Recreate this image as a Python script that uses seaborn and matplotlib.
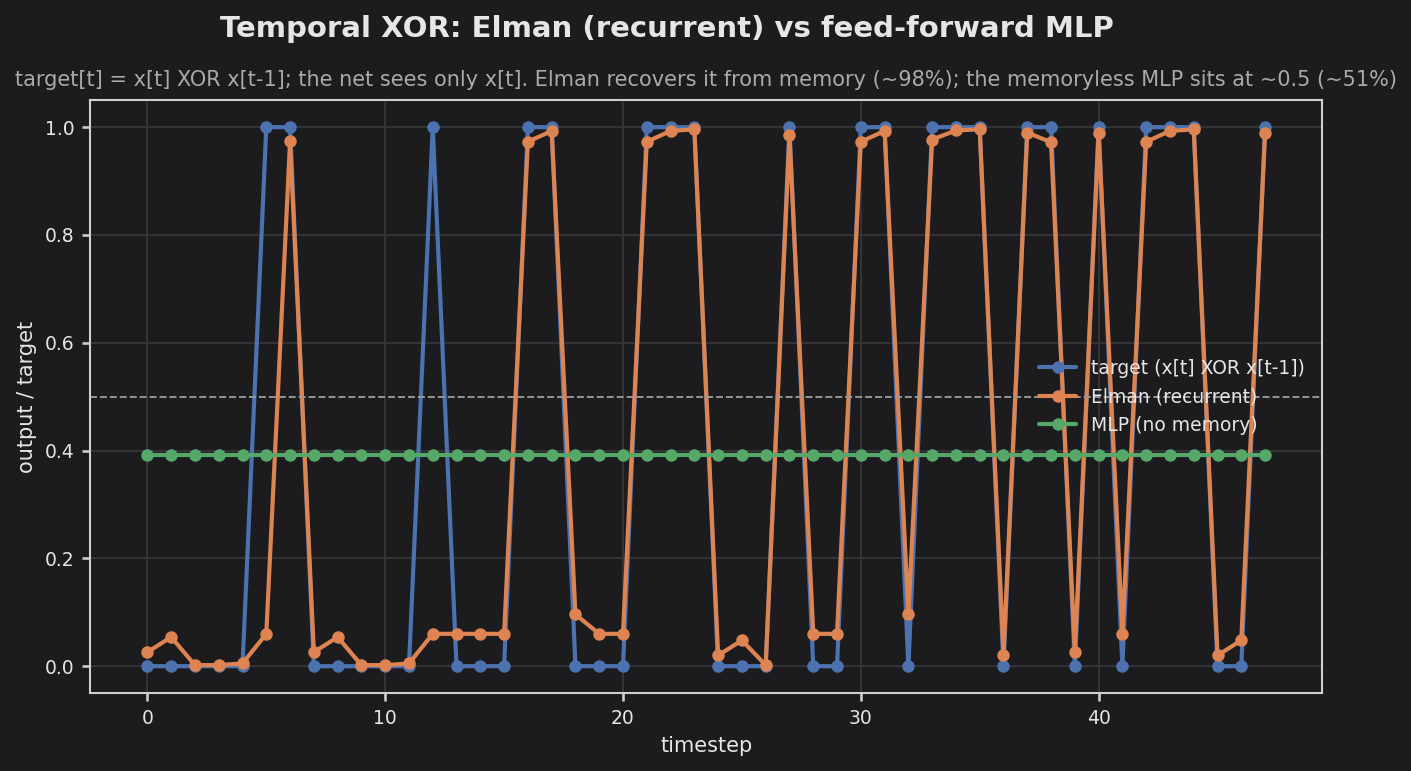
import numpy as np
import pandas as pd
import matplotlib
matplotlib.use("Agg")
import matplotlib.pyplot as plt
import seaborn as sns

timesteps = list(range(48))
target = [0, 0, 0, 0, 0, 1, 1, 0, 0, 0, 0, 0, 1, 0, 0, 0, 1, 1, 0, 0, 0, 1, 1, 1,
          0, 0, 0, 1, 0, 0, 1, 1, 0, 1, 1, 1, 0, 1, 1, 0, 1, 0, 1, 1, 1, 0, 0, 1]
elman = [0.026, 0.054, 0.002, 0.002, 0.005, 0.060, 0.974, 0.026, 0.054, 0.002, 0.002, 0.005,
         0.060, 0.060, 0.060, 0.060, 0.973, 0.993, 0.096, 0.060, 0.060, 0.973, 0.993, 0.996,
         0.020, 0.048, 0.002, 0.985, 0.060, 0.060, 0.973, 0.993, 0.096, 0.977, 0.994, 0.996,
         0.021, 0.990, 0.972, 0.026, 0.990, 0.060, 0.973, 0.993, 0.996, 0.020, 0.048, 0.990]
mlp = [0.391] * 48

series_names = ["target (x[t] XOR x[t-1])", "Elman (recurrent)", "MLP (no memory)"]

BG = "#1c1c1e"
sns.set_theme(style="darkgrid", palette="deep")
plt.rcParams.update({
    "figure.facecolor": BG,
    "axes.facecolor": BG,
    "axes.edgecolor": "#d0d0d0",
    "axes.labelcolor": "#e6e6e6",
    "xtick.color": "#e6e6e6",
    "ytick.color": "#e6e6e6",
    "grid.color": "#333335",
    "text.color": "#e6e6e6",
})
plt.rcParams["font.family"] = ["DejaVu Sans"]

df = pd.DataFrame({
    "timestep": timesteps * 3,
    "value": target + elman + mlp,
    "series": [series_names[0]] * 48 + [series_names[1]] * 48 + [series_names[2]] * 48,
})

pal = sns.color_palette("deep")
fig, ax = plt.subplots(figsize=(9.407, 5.14), dpi=150)
fig.subplots_adjust(left=0.064, right=0.937, top=0.870, bottom=0.101)

sns.lineplot(data=df, x="timestep", y="value", hue="series", palette=pal[:3],
             marker="o", markersize=6, markeredgewidth=0, linewidth=2, ax=ax)
ax.axhline(0.5, color="#999999", linestyle="--", linewidth=0.9)

for s in ax.spines.values():
    s.set_visible(True)
    s.set_color("#d0d0d0")
    s.set_linewidth(1)
ax.tick_params(axis="both", labelsize=9, length=4, color="#d0d0d0", bottom=True, left=True)
ax.set_xlim(-2.4, 49.4)
ax.set_ylim(-0.05, 1.05)
ax.set_xlabel("timestep", fontsize=10)
ax.set_ylabel("output / target", fontsize=10)
ax.set_title("target[t] = x[t] XOR x[t-1]; the net sees only x[t]. Elman recovers it from memory (~98%); "
             "the memoryless MLP sits at ~0.5 (~51%)", fontsize=10, color="#aaaaaa", pad=7)
fig.suptitle("Temporal XOR: Elman (recurrent) vs feed-forward MLP", fontsize=14,
             fontweight="bold", color="#e6e6e6", x=0.473, y=0.98)

leg = ax.legend(loc="center right", frameon=False, fontsize=9)
for t in leg.get_texts():
    t.set_color("#e6e6e6")

fig.savefig("out.png", dpi=150, facecolor=BG)
